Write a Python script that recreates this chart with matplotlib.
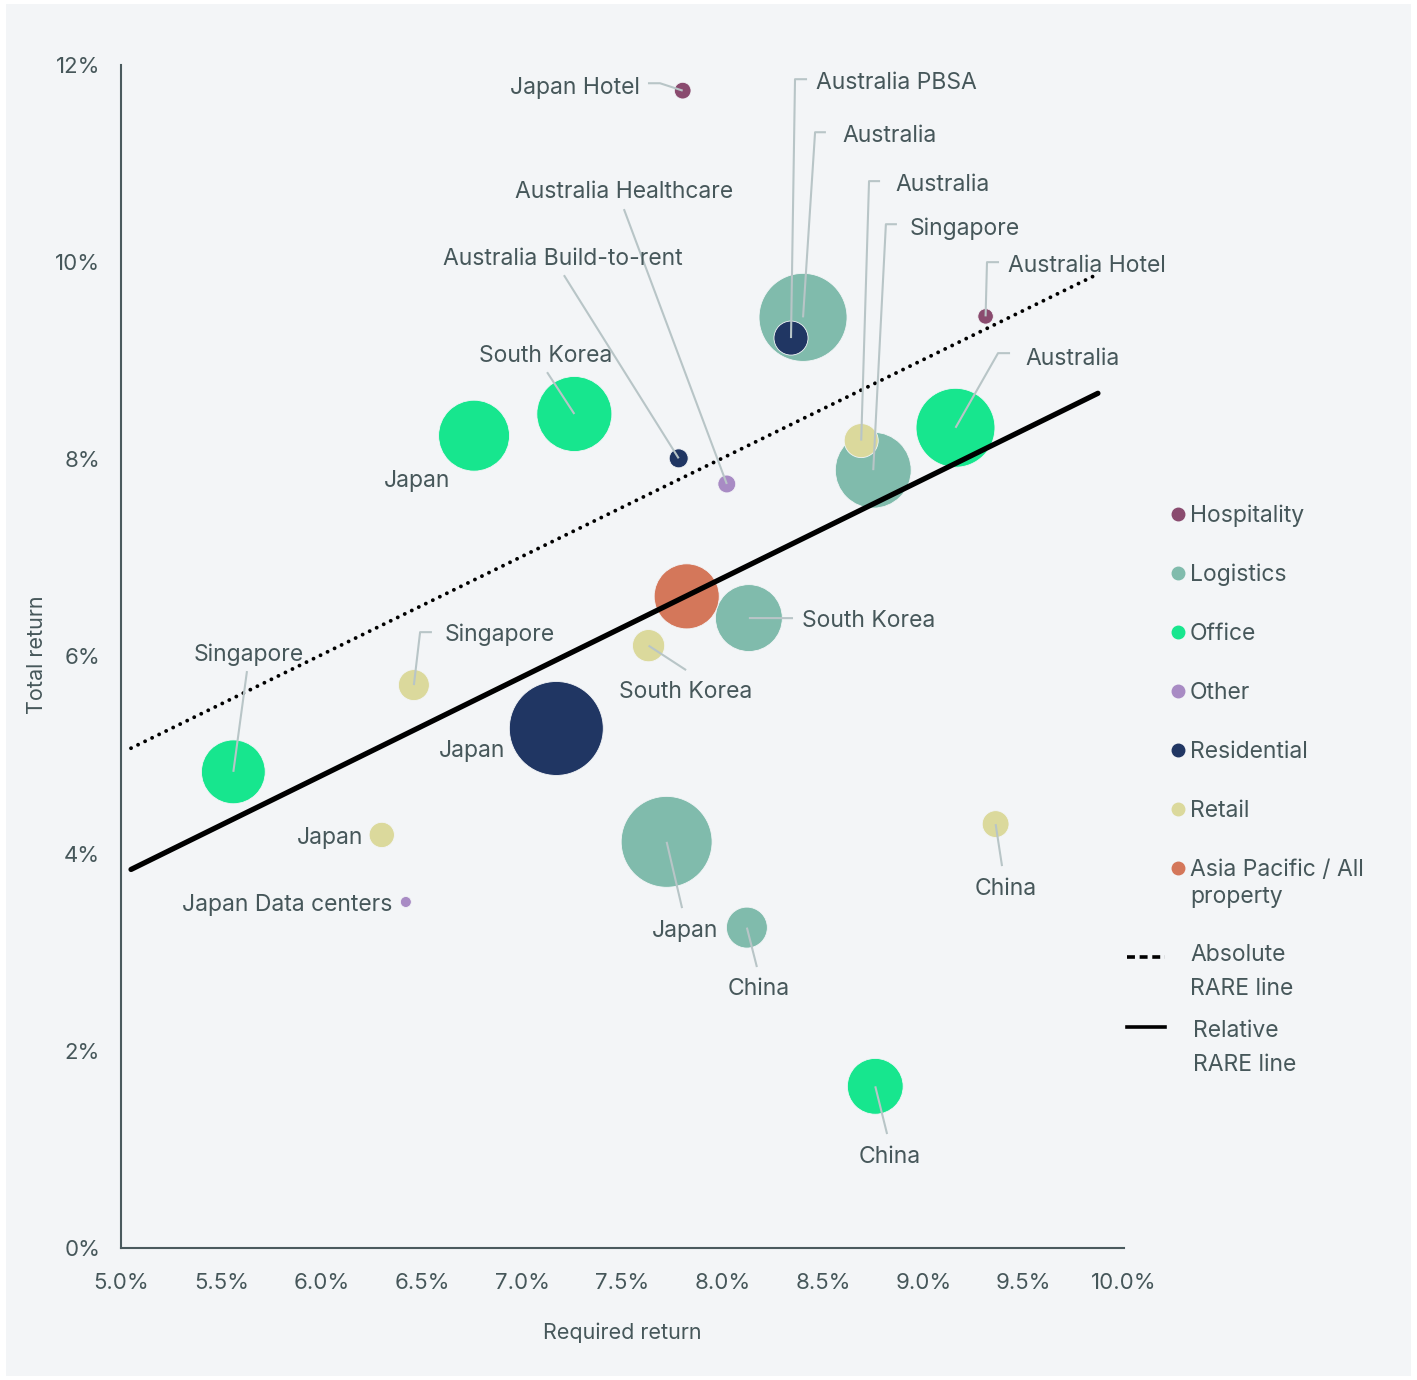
import matplotlib
matplotlib.use("Agg")
import matplotlib.pyplot as plt
from matplotlib.patches import Rectangle
from matplotlib.lines import Line2D
from matplotlib.ticker import FuncFormatter

# ------------------------------------------------------------------
# data
# ------------------------------------------------------------------
names = [
    "Japan Hotel", "Australia Hotel", "Australia PBSA", "Australia", "Australia",
    "Singapore", "Australia", "South Korea", "Japan", "Australia Build-to-rent",
    "Australia Healthcare", "Asia Pacific", "South Korea", "South Korea", "Singapore",
    "Japan", "Singapore", "Japan", "Japan Data centers", "Japan",
    "China", "China", "China",
]
sectors = [
    "Hospitality", "Hospitality", "Residential", "Logistics", "Retail",
    "Logistics", "Office", "Office", "Office", "Residential",
    "Other", "Asia Pacific / All property", "Logistics", "Retail", "Retail",
    "Residential", "Office", "Retail", "Other", "Logistics",
    "Logistics", "Retail", "Office",
]
required_return = [
    7.80, 9.31, 8.34, 8.40, 8.69,
    8.75, 9.16, 7.26, 6.76, 7.78,
    8.02, 7.82, 8.13, 7.63, 6.46,
    7.17, 5.56, 6.30, 6.42, 7.72,
    8.12, 9.36, 8.76,
]
total_return = [
    11.74, 9.45, 9.23, 9.44, 8.19,
    7.89, 8.32, 8.46, 8.24, 8.01,
    7.75, 6.61, 6.39, 6.11, 5.71,
    5.27, 4.83, 4.19, 3.51, 4.12,
    3.25, 4.30, 1.64,
]
bubble_size = [
    7, 6, 29, 194, 29,
    144, 156, 141, 126, 9,
    8, 106, 112, 26, 24,
    221, 102, 16, 3, 207,
    42, 18, 78,
]

legend_sectors = ["Hospitality", "Logistics", "Office", "Other",
                  "Residential", "Retail", "Asia Pacific / All property"]

# RARE lines (end points)
absolute_rare_x = [5.05, 9.85]
absolute_rare_y = [5.07, 9.86]
relative_rare_x = [5.05, 9.87]
relative_rare_y = [3.84, 8.67]

x_ticks = [5.0, 5.5, 6.0, 6.5, 7.0, 7.5, 8.0, 8.5, 9.0, 9.5, 10.0]
y_ticks = [0, 2, 4, 6, 8, 10, 12]

# ------------------------------------------------------------------
# style
# ------------------------------------------------------------------
colors = {
    "Hospitality": "#8a4b6f",
    "Logistics": "#80bbac",
    "Office": "#17e68e",
    "Other": "#a88bc4",
    "Residential": "#203663",
    "Retail": "#dbd99c",
    "Asia Pacific / All property": "#d4775a",
}
BG = "#f3f5f7"
TXT = "#46575a"
LEAD = "#b8c5c7"
FONT = "Inter"
FS = 16.5
BUBBLE_SCALE = 20.7

# label placement: index -> (x, y, ha, leader elbow points)
label_spec = {
    0: (7.587, 11.785, "right", [(7.627, 11.815), (7.687, 11.815)]),
    1: (9.422, 9.980, "left", [(9.377, 10.0), (9.317, 10.0)]),
    2: (8.465, 11.836, "left", [(8.420, 11.856), (8.360, 11.856)]),
    3: (8.594, 11.298, "left", [(8.514, 11.318), (8.460, 11.318)]),
    4: (8.863, 10.801, "left", [(8.784, 10.822), (8.729, 10.822)]),
    5: (8.933, 10.355, "left", [(8.868, 10.385), (8.813, 10.385)]),
    6: (9.507, 9.037, "left", [(9.432, 9.077), (9.372, 9.077)]),
    7: (7.119, 9.067, "center", [(7.124, 8.884)]),
    8: (6.476, 7.799, "center", []),
    9: (7.203, 10.051, "center", [(7.208, 9.868)]),
    10: (7.507, 10.730, "center", [(7.507, 10.538)]),
    12: (8.395, 6.379, "left", [(8.350, 6.389)]),
    13: (7.817, 5.659, "center", [(7.817, 5.862)]),
    14: (6.615, 6.237, "left", [(6.550, 6.247), (6.491, 6.247)]),
    15: (6.914, 5.061, "right", []),
    16: (5.638, 6.034, "center", [(5.628, 5.852)]),
    17: (6.206, 4.178, "right", []),
    18: (6.351, 3.499, "right", []),
    19: (7.812, 3.235, "center", [(7.797, 3.448)]),
    20: (8.180, 2.647, "center", [(8.170, 2.850)]),
    21: (9.412, 3.661, "center", [(9.392, 3.874)]),
    22: (8.833, 0.943, "center", [(8.819, 1.156)]),
}

W, H = 1417, 1380
fig = plt.figure(figsize=(W / 100, H / 100), dpi=100, facecolor="white")
fig.patches.append(Rectangle((6 / W, 4 / H), 1405 / W, 1372 / H,
                             transform=fig.transFigure, facecolor=BG,
                             edgecolor="none", zorder=-5))

ax = fig.add_axes([121 / W, 132 / H, 1003 / W, 1183 / H])
ax.set_facecolor("none")
ax.set_xlim(5, 10)
ax.set_ylim(0, 12)

for side in ["top", "right"]:
    ax.spines[side].set_visible(False)
for side in ["left", "bottom"]:
    ax.spines[side].set_color("#4a5a5e")
    ax.spines[side].set_linewidth(1.5)

ax.set_xticks(x_ticks)
ax.set_yticks(y_ticks)
ax.xaxis.set_major_formatter(FuncFormatter(lambda v, p: "{:.1f}%".format(v)))
ax.yaxis.set_major_formatter(FuncFormatter(lambda v, p: "{:d}%".format(int(v))))
ax.tick_params(axis="both", length=0, labelsize=FS - 0.5, labelcolor=TXT)
ax.tick_params(axis="x", pad=18)
ax.tick_params(axis="y", pad=15)
for lab in ax.get_xticklabels() + ax.get_yticklabels():
    lab.set_fontfamily(FONT)

# bubbles, largest first so small ones sit on top
order = sorted(range(len(names)), key=lambda i: -bubble_size[i])
ax.scatter([required_return[i] for i in order],
           [total_return[i] for i in order],
           s=[bubble_size[i] * BUBBLE_SCALE for i in order],
           c=[colors[sectors[i]] for i in order],
           edgecolors=BG, linewidths=0.6, zorder=3)

# RARE lines
ax.plot(absolute_rare_x, absolute_rare_y, color="black", lw=2.8,
        linestyle=(0, (0.01, 2.0)), dash_capstyle="round", zorder=4)
ax.plot(relative_rare_x, relative_rare_y, color="black", lw=3.8,
        solid_capstyle="round", zorder=4)

# labels + leader lines
for i, (tx, ty, ha, elbow) in label_spec.items():
    ax.text(tx, ty - 0.08, names[i], ha=ha, va="baseline", fontsize=FS,
            color=TXT, family=FONT, zorder=6)
    if elbow:
        pts = elbow + [(required_return[i], total_return[i])]
        ax.plot([p[0] for p in pts], [p[1] for p in pts], color=LEAD,
                lw=1.5, zorder=5, solid_capstyle="butt")

# axis titles
fig.text(37 / W, 1 - 655 / H, "Total return", rotation=90, ha="center",
         va="center", fontsize=FS - 1, color=TXT, family=FONT)
fig.text(622 / W, 1 - 1333 / H, "Required return", ha="center",
         va="center", fontsize=FS - 1, color=TXT, family=FONT)


def fig_line(x, y_base, text):
    fig.text(x / W, 1 - y_base / H, text, ha="left", va="baseline",
             fontsize=FS, color=TXT, family=FONT)


# legend (hand placed)
leg_y = [514, 573, 632, 691, 750, 809, 868]
for sec, yy in zip(legend_sectors, leg_y):
    fig.add_artist(Line2D([1178 / W], [1 - yy / H], marker="o", markersize=9,
                          color=colors[sec], linestyle="none",
                          transform=fig.transFigure))
    if sec.startswith("Asia"):
        fig_line(1190, yy + 8, "Asia Pacific / All")
        fig_line(1190, yy + 35, "property")
    else:
        fig_line(1190, yy + 8, sec)

fig.add_artist(Line2D([1127 / W, 1165 / W], [1 - 957 / H, 1 - 957 / H],
                      color="black", lw=2.6, linestyle=(0, (2.2, 1.3)),
                      transform=fig.transFigure))
fig.add_artist(Line2D([1127 / W, 1165 / W], [1 - 1027 / H, 1 - 1027 / H],
                      color="black", lw=2.6, transform=fig.transFigure))
fig_line(1190, 961, "Absolute")
fig_line(1190, 995, "RARE line")
fig_line(1193, 1037, "Relative")
fig_line(1193, 1071, "RARE line")

fig.savefig("out.png", dpi=100, facecolor="white")
